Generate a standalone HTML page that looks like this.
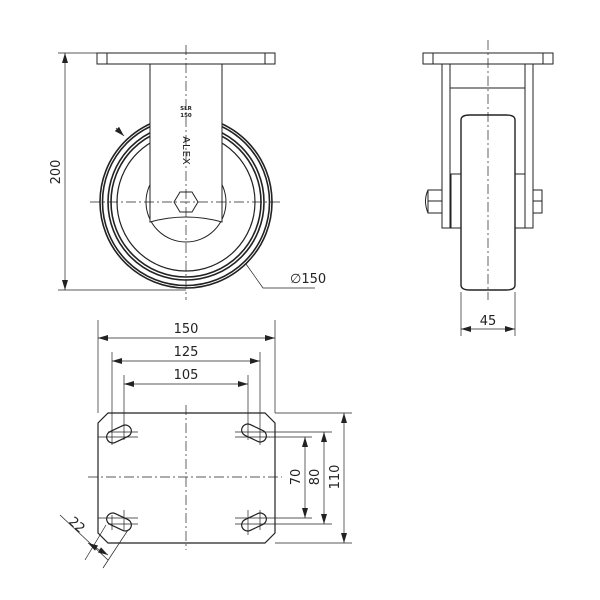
<!DOCTYPE html><html><head><style>body{margin:0;background:#fff}svg{display:block}text{font-family:"DejaVu Sans","Liberation Sans",sans-serif;font-size:13px;fill:#222}</style></head><body>
<svg width="600" height="600" viewBox="0 0 600 600" xmlns="http://www.w3.org/2000/svg">
<defs><marker id="a" viewBox="0 0 10 6" refX="10" refY="3" markerWidth="10" markerHeight="6" orient="auto-start-reverse" markerUnits="userSpaceOnUse"><path d="M0,0L10,3L0,6z" fill="#222"/></marker></defs>
<g fill="none" stroke="#222" stroke-width="1">
<g stroke-width="1.6">
<circle cx="186" cy="202" r="86"/><circle cx="186" cy="202" r="83.5"/>
<circle cx="186" cy="202" r="78"/><circle cx="186" cy="202" r="75"/>
</g>
<circle cx="186" cy="202" r="69" stroke-width="1.2"/>
<circle cx="186" cy="202" r="40"/>
<rect x="150" y="64" width="72" height="130" fill="#fff" stroke="none"/>
<path d="M150,64 L150,222 Q186,212 222,222 L222,64" fill="#fff"/>
<rect x="97" y="53" width="178" height="11" fill="#fff"/>
<line x1="107" y1="53" x2="107" y2="64"/><line x1="265" y1="53" x2="265" y2="64"/>
<polygon points="174,202 180,192 192,192 198,202 192,212 180,212" fill="#fff"/>
<line x1="186" y1="45" x2="186" y2="300" stroke-dasharray="10,3,2,3" stroke-width="0.7"/>
<line x1="90" y1="202" x2="282" y2="202" stroke-dasharray="10,3,2,3" stroke-width="0.7"/>
<line x1="58" y1="53" x2="97" y2="53" stroke-width="0.7"/>
<line x1="58" y1="290" x2="186" y2="290" stroke-width="0.7"/>
<line x1="65" y1="53" x2="65" y2="290" marker-start="url(#a)" marker-end="url(#a)" stroke-width="0.7"/>
<line x1="116" y1="128" x2="124" y2="136" marker-end="url(#a)" stroke-width="0.7"/>
<polyline points="246,264 263,288 315,288" stroke-width="0.7"/>
<rect x="423" y="53" width="130" height="11"/>
<line x1="433" y1="53" x2="433" y2="64"/><line x1="543" y1="53" x2="543" y2="64"/>
<rect x="442" y="64" width="8" height="164"/><rect x="525" y="64" width="8" height="164"/>
<line x1="450" y1="88" x2="525" y2="88"/>
<rect x="451" y="174" width="10" height="54"/><rect x="515" y="174" width="10" height="54"/>
<path d="M461,120 Q461,115 470,115 L506,115 Q515,115 515,120 L515,285 Q515,290 506,290 L470,290 Q461,290 461,285 Z" stroke-width="1.4" fill="#fff"/>
<rect x="428" y="190" width="14" height="23"/><path d="M428,190 Q423,201 428,213"/><line x1="428" y1="201" x2="442" y2="201"/>
<rect x="533" y="190" width="9" height="23"/><line x1="533" y1="201" x2="542" y2="201"/>
<line x1="488" y1="40" x2="488" y2="300" stroke-dasharray="10,3,2,3" stroke-width="0.7"/>
<line x1="461" y1="292" x2="461" y2="336" stroke-width="0.7"/><line x1="515" y1="292" x2="515" y2="336" stroke-width="0.7"/>
<line x1="461" y1="329" x2="515" y2="329" marker-start="url(#a)" marker-end="url(#a)" stroke-width="0.7"/>
<polygon points="108,413 265,413 275,423 275,533 265,543 108,543 98,533 98,423" stroke-width="1.2"/>
<line x1="186" y1="405" x2="186" y2="550" stroke-dasharray="10,3,2,3" stroke-width="0.7"/>
<line x1="88" y1="477" x2="282" y2="477" stroke-dasharray="10,3,2,3" stroke-width="0.7"/>
<g stroke-width="1.2">
<rect x="106" y="428" width="26" height="12" rx="6" transform="rotate(-25 119 434)"/>
<rect x="241" y="427" width="26" height="12" rx="6" transform="rotate(25 254 433)"/>
<rect x="106" y="516" width="26" height="12" rx="6" transform="rotate(25 119 522)"/>
<rect x="241" y="516" width="26" height="12" rx="6" transform="rotate(-25 254 522)"/>
</g>
<g stroke-width="0.7">
<line x1="98" y1="320" x2="98" y2="413"/><line x1="275" y1="320" x2="275" y2="413"/>
<line x1="98" y1="338" x2="275" y2="338" marker-start="url(#a)" marker-end="url(#a)"/>
<line x1="112" y1="352" x2="112" y2="445"/><line x1="260" y1="352" x2="260" y2="445"/>
<line x1="112" y1="361" x2="260" y2="361" marker-start="url(#a)" marker-end="url(#a)"/>
<line x1="124" y1="375" x2="124" y2="440"/><line x1="248" y1="375" x2="248" y2="440"/>
<line x1="124" y1="384" x2="248" y2="384" marker-start="url(#a)" marker-end="url(#a)"/>
<line x1="112" y1="515" x2="112" y2="530"/><line x1="124" y1="510" x2="124" y2="530"/>
<line x1="248" y1="510" x2="248" y2="535"/><line x1="260" y1="510" x2="260" y2="530"/>
<line x1="98" y1="437" x2="138" y2="437"/><line x1="235" y1="437" x2="312" y2="437"/>
<line x1="108" y1="432" x2="138" y2="432"/><line x1="235" y1="432" x2="332" y2="432"/>
<line x1="98" y1="518" x2="138" y2="518"/><line x1="235" y1="518" x2="312" y2="518"/>
<line x1="108" y1="524" x2="138" y2="524"/><line x1="235" y1="524" x2="332" y2="524"/>
<line x1="275" y1="413" x2="352" y2="413"/><line x1="275" y1="543" x2="352" y2="543"/>
<line x1="305" y1="437" x2="305" y2="518" marker-start="url(#a)" marker-end="url(#a)"/>
<line x1="324" y1="432" x2="324" y2="524" marker-start="url(#a)" marker-end="url(#a)"/>
<line x1="344" y1="413" x2="344" y2="543" marker-start="url(#a)" marker-end="url(#a)"/>
<line x1="106" y1="525" x2="85" y2="560"/><line x1="128" y1="530" x2="103" y2="568"/>
<line x1="60" y1="515" x2="108" y2="560"/>
<line x1="88" y1="543" x2="108" y2="555" marker-start="url(#a)" marker-end="url(#a)"/>
</g>
</g>
<text x="0" y="0" transform="translate(60,172) rotate(-90)" text-anchor="middle">200</text>
<text x="290" y="283">∅150</text>
<text x="488" y="325" text-anchor="middle">45</text>
<text x="186" y="333" text-anchor="middle">150</text>
<text x="186" y="356" text-anchor="middle">125</text>
<text x="186" y="379" text-anchor="middle">105</text>
<text transform="translate(300,477) rotate(-90)" text-anchor="middle">70</text>
<text transform="translate(319,477) rotate(-90)" text-anchor="middle">80</text>
<text transform="translate(339,477) rotate(-90)" text-anchor="middle">110</text>
<text transform="translate(74,528) rotate(42)" text-anchor="middle">22</text>
<text x="186" y="110" text-anchor="middle" style="font-size:5.5px;font-weight:bold">SLR</text>
<text x="186" y="117" text-anchor="middle" style="font-size:5.5px;font-weight:bold">150</text>
<text transform="translate(183,151) rotate(90)" text-anchor="middle" style="font-size:10px;letter-spacing:1px">ALEX</text>
</svg>
</body></html>
